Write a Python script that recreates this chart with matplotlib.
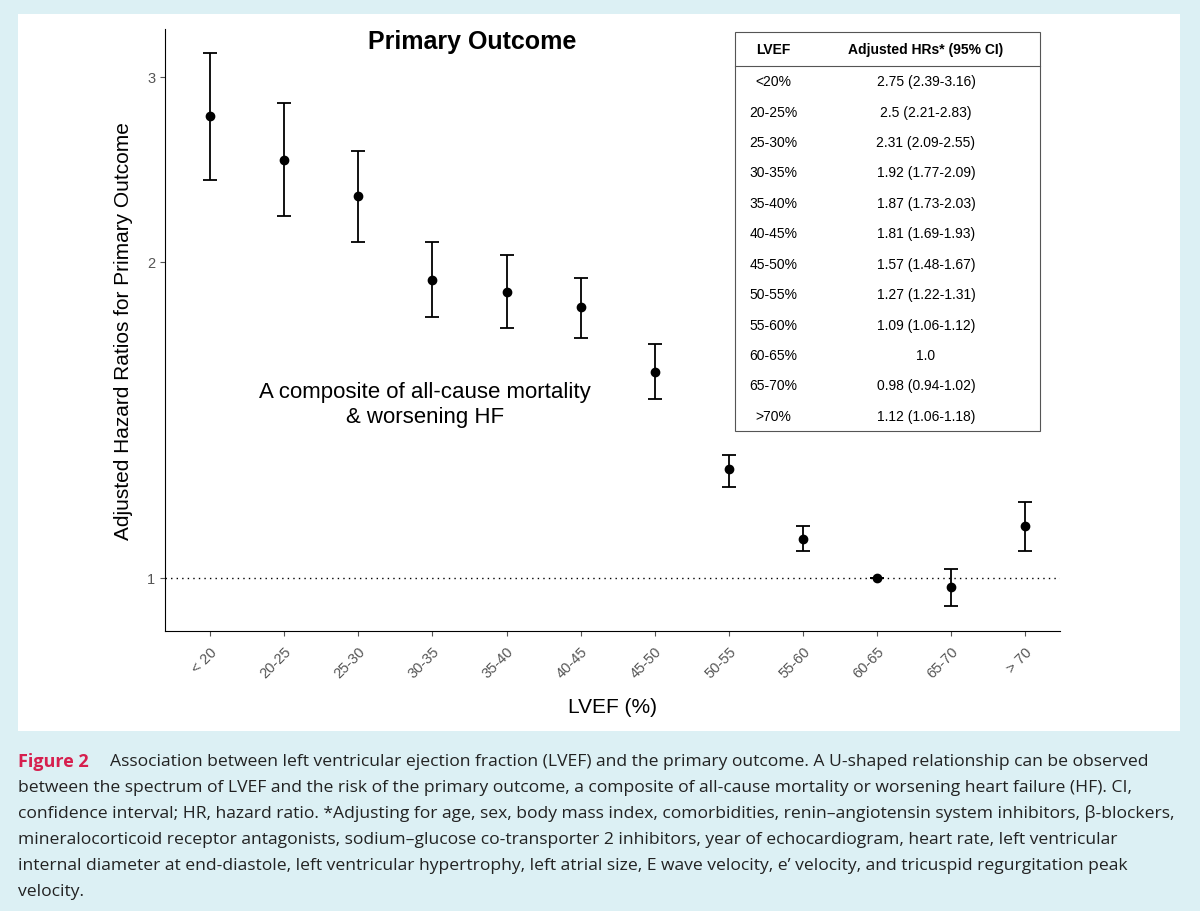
import matplotlib.pyplot as plt
from matplotlib.patches import Rectangle
from matplotlib.ticker import FixedLocator, NullLocator

plt.rcParams['font.family'] = ['Liberation Sans', 'DejaVu Sans']

categories = ['< 20', '20-25', '25-30', '30-35', '35-40', '40-45', '45-50',
              '50-55', '55-60', '60-65', '65-70', '> 70']
table_lvef = ['<20%', '20-25%', '25-30%', '30-35%', '35-40%', '40-45%', '45-50%',
              '50-55%', '55-60%', '60-65%', '65-70%', '>70%']
hr = [2.75, 2.5, 2.31, 1.92, 1.87, 1.81, 1.57, 1.27, 1.09, 1.0, 0.98, 1.12]
lo = [2.39, 2.21, 2.09, 1.77, 1.73, 1.69, 1.48, 1.22, 1.06, 1.0, 0.94, 1.06]
hi = [3.16, 2.83, 2.55, 2.09, 2.03, 1.93, 1.67, 1.31, 1.12, 1.0, 1.02, 1.18]
table_hr = ['2.75 (2.39-3.16)', '2.5 (2.21-2.83)', '2.31 (2.09-2.55)', '1.92 (1.77-2.09)',
            '1.87 (1.73-2.03)', '1.81 (1.69-1.93)', '1.57 (1.48-1.67)', '1.27 (1.22-1.31)',
            '1.09 (1.06-1.12)', '1.0', '0.98 (0.94-1.02)', '1.12 (1.06-1.18)']

W, H = 1200, 912
fig = plt.figure(figsize=(12, 9.12), dpi=100)
fig.patch.set_facecolor('#dcf0f4')
fig.add_artist(Rectangle((18 / W, 1 - 732 / H), 1162 / W, 717 / H, zorder=-5,
                         transform=fig.transFigure, facecolor='white', edgecolor='none'))

ax = fig.add_axes([165 / W, 1 - 632 / H, 895 / W, 602 / H])
ax.set_zorder(2)
ax.set_facecolor('none')
x = list(range(1, 13))
yerr = [[h - l for h, l in zip(hr, lo)], [u - h for h, u in zip(hr, hi)]]
ax.errorbar(x, hr, yerr=yerr, fmt='o', color='black', ms=6, capsize=5, elinewidth=1.3, capthick=1.3)
ax.axhline(1, color='black', linestyle=(0, (1, 3)), linewidth=1)
ax.set_yscale('log')
ax.set_ylim(0.89, 3.33)
ax.set_xlim(0.39, 12.47)
ax.yaxis.set_major_locator(FixedLocator([1, 2, 3]))
ax.yaxis.set_minor_locator(NullLocator())
ax.set_yticklabels(['1', '2', '3'])
ax.set_xticks(x)
ax.set_xticklabels(categories, rotation=45, ha='right', rotation_mode='anchor')
ax.tick_params(colors='#555555', labelsize=10.5)
ax.tick_params(axis='x', pad=6)
for s in ['top', 'right']:
    ax.spines[s].set_visible(False)
ax.set_xlabel('LVEF (%)', fontsize=15, labelpad=12)
ax.set_ylabel('Adjusted Hazard Ratios for Primary Outcome', fontsize=15, labelpad=10)

fig.text(472 / W, 1 - 42 / H, 'Primary Outcome', fontsize=18, fontweight='bold', ha='center', va='center', zorder=3)
fig.text(425 / W, 1 - 405 / H, 'A composite of all-cause mortality\n& worsening HF',
         fontsize=16, ha='center', va='center', linespacing=1.3, zorder=3)

# table
tx0, tx1, txm = 735, 1040, 812
ty0, ty_head = 33, 67
row_h = (432 - ty_head) / 12
fig.add_artist(Rectangle((tx0 / W, 1 - 432 / H), (tx1 - tx0) / W, (432 - ty0) / H, zorder=3,
                         transform=fig.transFigure, facecolor='white', edgecolor='#555555', lw=0.8))
fig.add_artist(plt.Line2D([tx0 / W, tx1 / W], [1 - ty_head / H] * 2, color='#555555', lw=0.8, zorder=4))
fig.text((tx0 + txm) / 2 / W, 1 - 50 / H, 'LVEF', fontsize=10, fontweight='bold', ha='center', va='center', zorder=4)
fig.text((txm + tx1) / 2 / W, 1 - 50 / H, 'Adjusted HRs* (95% CI)', fontsize=10, fontweight='bold', ha='center', va='center', zorder=4)
for i, (a, b) in enumerate(zip(table_lvef, table_hr)):
    yc = ty_head + row_h * (i + 0.5)
    fig.text((tx0 + txm) / 2 / W, 1 - yc / H, a, fontsize=10, ha='center', va='center', zorder=4)
    fig.text((txm + tx1) / 2 / W, 1 - yc / H, b, fontsize=10, ha='center', va='center', zorder=4)

# caption
cap = ['Association between left ventricular ejection fraction (LVEF) and the primary outcome. A U-shaped relationship can be observed',
       'between the spectrum of LVEF and the risk of the primary outcome, a composite of all-cause mortality or worsening heart failure (HF). CI,',
       'confidence interval; HR, hazard ratio. *Adjusting for age, sex, body mass index, comorbidities, renin\u2013angiotensin system inhibitors, \u03b2-blockers,',
       'mineralocorticoid receptor antagonists, sodium\u2013glucose co-transporter 2 inhibitors, year of echocardiogram, heart rate, left ventricular',
       'internal diameter at end-diastole, left ventricular hypertrophy, left atrial size, E wave velocity, e\u2019 velocity, and tricuspid regurgitation peak',
       'velocity.']
fig.text(18 / W, 1 - 762 / H, 'Figure 2', fontsize=13, fontweight='bold', color='#d6204e',
         va='center', family=['Open Sans', 'DejaVu Sans'])
for i, line in enumerate(cap):
    xs = 110 if i == 0 else 18
    fig.text(xs / W, 1 - (762 + 26 * i) / H, line, fontsize=12.6, color='#222222',
             va='center', family=['Open Sans', 'DejaVu Sans'])

fig.savefig('out.png', dpi=100, facecolor=fig.get_facecolor())
